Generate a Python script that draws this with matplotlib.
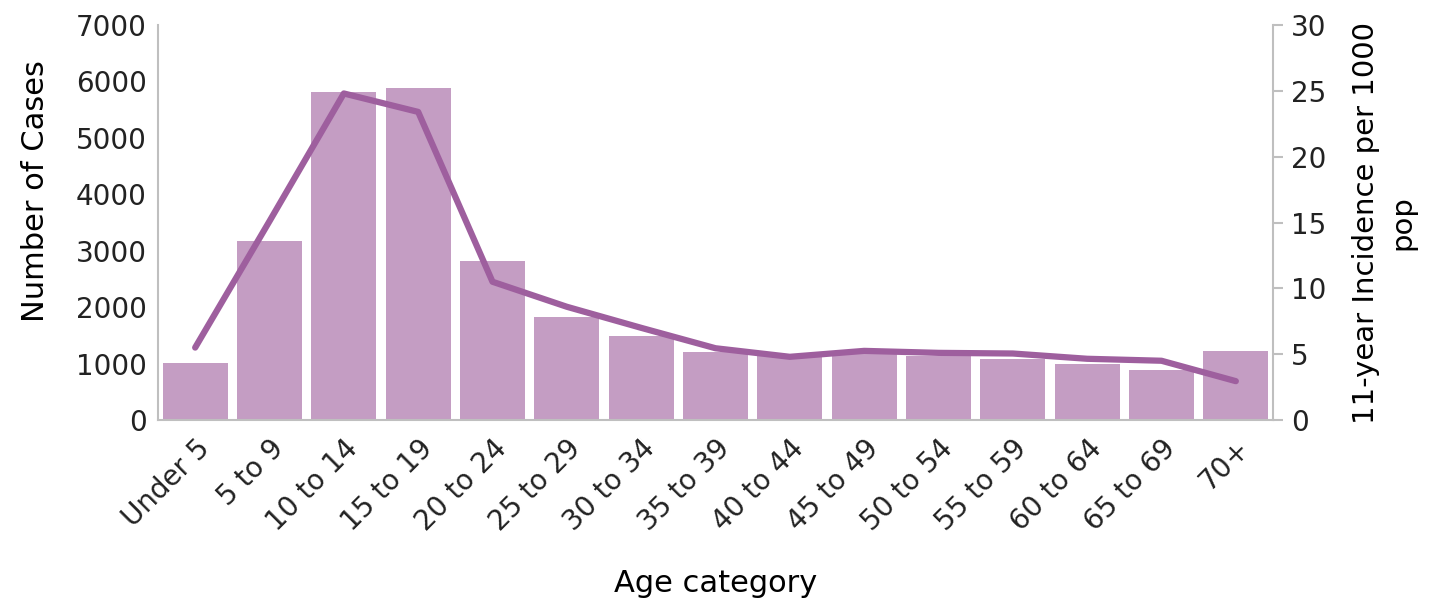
import matplotlib
matplotlib.use("Agg")
import matplotlib.pyplot as plt

age_groups = ['Under 5', '5 to 9', '10 to 14', '15 to 19', '20 to 24', '25 to 29',
              '30 to 34', '35 to 39', '40 to 44', '45 to 49', '50 to 54', '55 to 59',
              '60 to 64', '65 to 69', '70+']
cases = [1005, 3170, 5810, 5880, 2820, 1825, 1480, 1200, 1130, 1170, 1130, 1080, 990, 890, 1230]
incidence = [5.5, 15.1, 24.8, 23.4, 10.5, 8.6, 7.0, 5.45, 4.8, 5.25, 5.1, 5.05, 4.65, 4.5, 2.95]

plt.rcParams['font.family'] = ['DejaVu Sans']
grey = '#BFBFBF'

fig = plt.figure(figsize=(14.45, 6.01), dpi=100)
ax = fig.add_axes([158 / 1445, 1 - 420 / 601, 1115 / 1445, 395 / 601])
x = list(range(len(age_groups)))
ax.bar(x, cases, width=0.875, color='#C49DC3', zorder=2)
ax.set_xlim(-0.5, len(age_groups) - 0.5)
ax.set_ylim(0, 7000)
ax.set_yticks(range(0, 7001, 1000))
ax.set_xticks(x)
ax.set_xticklabels(age_groups, rotation=45, ha='right', rotation_mode='anchor')
ax.tick_params(axis='both', labelsize=20, length=0, colors='#222222', pad=8)
ax.tick_params(axis='x', pad=10)
for s in ['top', 'right']:
    ax.spines[s].set_visible(False)
for s in ['left', 'bottom']:
    ax.spines[s].set_color(grey)
    ax.spines[s].set_linewidth(1.5)
ax.set_ylabel('Number of Cases', fontsize=22)
ax.yaxis.set_label_coords(-0.097, 0.58)
ax.set_xlabel('Age category', fontsize=22, labelpad=24)

ax2 = ax.twinx()
ax2.plot(x, incidence, color='#9E5F9E', linewidth=4.5, solid_capstyle='round', zorder=3)
ax2.set_ylim(0, 30)
ax2.set_yticks(range(0, 31, 5))
ax2.tick_params(axis='y', labelsize=20, length=7, width=1.5, color=grey, labelcolor='#222222', pad=6)
for s in ['top', 'left', 'bottom']:
    ax2.spines[s].set_visible(False)
ax2.spines['right'].set_color(grey)
ax2.spines['right'].set_linewidth(1.5)
ax2.set_ylabel('11-year Incidence per 1000\npop', fontsize=21, labelpad=18, linespacing=1.4)

fig.savefig('out.png', dpi=100)
